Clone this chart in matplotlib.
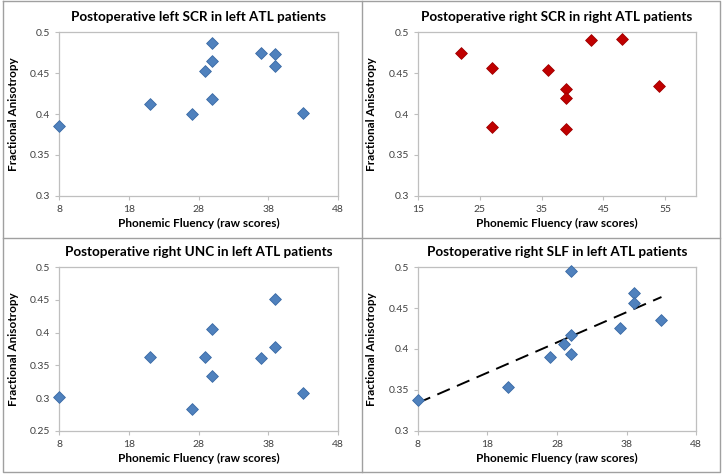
import numpy as np
import matplotlib.pyplot as plt
from matplotlib.lines import Line2D

plt.rcParams['font.family'] = ['Lato', 'DejaVu Sans']

# left ATL patients: phonemic fluency
x_left = [8, 21, 27, 29, 30, 30, 30, 37, 39, 39, 43]
fa_left_scr = [0.385, 0.412, 0.400, 0.453, 0.487, 0.465, 0.418, 0.475, 0.474, 0.459, 0.401]
fa_right_slf = [0.338, 0.353, 0.390, 0.406, 0.496, 0.417, 0.394, 0.426, 0.469, 0.456, 0.436]

x_left_unc = [8, 21, 27, 29, 30, 30, 37, 39, 39, 43]
fa_right_unc = [0.301, 0.363, 0.283, 0.363, 0.405, 0.334, 0.361, 0.451, 0.378, 0.308]

# right ATL patients
x_right = [22, 27, 27, 36, 39, 39, 39, 43, 48, 54]
fa_right_scr = [0.475, 0.456, 0.384, 0.454, 0.431, 0.420, 0.382, 0.490, 0.492, 0.434]

W, H = 724, 476
fig = plt.figure(figsize=(W / 100, H / 100), dpi=100)

blue = '#4f81bd'
red = '#c00000'


def make_ax(left, top, right, bottom):
    ax = fig.add_axes([left / W, 1 - bottom / H, (right - left) / W, (bottom - top) / H])
    for s in ax.spines.values():
        s.set_color('#bfbfbf')
        s.set_linewidth(0.9)
    ax.tick_params(colors='#bfbfbf', labelcolor='#404040', labelsize=7.5, length=3, width=0.8)
    return ax


def style(ax, title, xlim, xticks, ylim, yticks, ylabels):
    ax.set_xlim(*xlim)
    ax.set_xticks(xticks)
    ax.set_ylim(*ylim)
    ax.set_yticks(yticks)
    ax.set_yticklabels(ylabels)
    ax.set_title(title, fontsize=9.7, fontweight='bold', pad=8)
    ax.set_xlabel('Phonemic Fluency (raw scores)', fontsize=8.5, fontweight='bold', labelpad=3)
    ax.set_ylabel('Fractional Anisotropy', fontsize=8.5, fontweight='bold', labelpad=8)


def dots(ax, x, y, color, edge):
    ax.scatter(x, y, marker='D', s=36, color=color, edgecolor=edge, linewidth=0.6, zorder=3, clip_on=False)


left_ticks = [8, 18, 28, 38, 48]
y_ticks = [0.3, 0.35, 0.4, 0.45, 0.5]
y_labels = ['0.3', '0.35', '0.4', '0.45', '0.5']

ax1 = make_ax(59.3, 32.3, 337.7, 195.7)
dots(ax1, x_left, fa_left_scr, blue, '#3a6aa5')
style(ax1, 'Postoperative left SCR in left ATL patients', (8, 48), left_ticks, (0.3, 0.5), y_ticks, y_labels)

ax2 = make_ax(417.7, 32.3, 696.3, 195.7)
dots(ax2, x_right, fa_right_scr, red, '#a00000')
style(ax2, 'Postoperative right SCR in right ATL patients', (15, 60), [15, 25, 35, 45, 55], (0.3, 0.5), y_ticks, y_labels)

ax3 = make_ax(59.3, 267.3, 337.7, 430.7)
dots(ax3, x_left_unc, fa_right_unc, blue, '#3a6aa5')
style(ax3, 'Postoperative right UNC in left ATL patients', (8, 48), left_ticks, (0.25, 0.5),
      [0.25, 0.3, 0.35, 0.4, 0.45, 0.5], ['0.25', '0.3', '0.35', '0.4', '0.45', '0.5'])

ax4 = make_ax(417.7, 267.3, 696.3, 430.7)
dots(ax4, x_left, fa_right_slf, blue, '#3a6aa5')
coef = np.polyfit(x_left, fa_right_slf, 1)
xs = np.array([min(x_left), max(x_left)])
ax4.plot(xs, np.polyval(coef, xs), color='black', linestyle=(0, (7, 4)), linewidth=1.4, zorder=2)
style(ax4, 'Postoperative right SLF in left ATL patients', (8, 48), left_ticks, (0.3, 0.5), y_ticks, y_labels)

# outer frame and panel dividers
fig.add_artist(Line2D([3 / W, 720 / W, 720 / W, 3 / W, 3 / W], [1 - 1 / H, 1 - 1 / H, 1 - 472 / H, 1 - 472 / H, 1 - 1 / H],
                      color='#a0a0a0', linewidth=1))
fig.add_artist(Line2D([362 / W, 362 / W], [1 - 1 / H, 1 - 472 / H], color='#a0a0a0', linewidth=1))
fig.add_artist(Line2D([3 / W, 720 / W], [1 - 238 / H, 1 - 238 / H], color='#a0a0a0', linewidth=1))

fig.savefig('out.png', dpi=100)
